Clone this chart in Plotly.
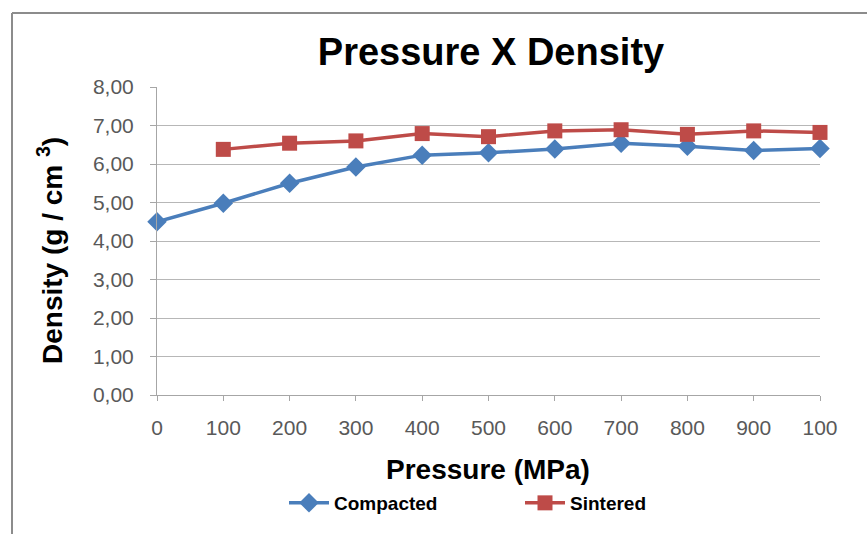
import plotly.graph_objects as go

pressure = [0, 100, 200, 300, 400, 500, 600, 700, 800, 900, 1000]
tick_labels = ["0", "100", "200", "300", "400", "500", "600", "700", "800", "900", "100"]
compacted = [4.50, 4.98, 5.50, 5.92, 6.23, 6.29, 6.39, 6.54, 6.46, 6.35, 6.40]
sintered_pressure = [100, 200, 300, 400, 500, 600, 700, 800, 900, 1000]
sintered = [6.38, 6.54, 6.60, 6.79, 6.71, 6.86, 6.89, 6.77, 6.86, 6.82]
y_ticks = [0, 1, 2, 3, 4, 5, 6, 7, 8]

W, H = 867, 534
L, R, T, B = 157, 47, 87, 139
pw, ph = W - L - R, H - T - B

def px_x(p):
    return (p - L) / pw

def px_y(p):
    return (H - B - p) / ph

fig = go.Figure()
fig.add_trace(go.Scatter(
    x=pressure, y=compacted, name="Compacted", mode="lines+markers",
    line=dict(color="#4A7EBB", width=3.5),
    marker=dict(symbol="diamond", size=15, color="#4A7EBB"),
    cliponaxis=False,
))
fig.add_trace(go.Scatter(
    x=sintered_pressure, y=sintered, name="Sintered", mode="lines+markers",
    line=dict(color="#BE4B48", width=3.5),
    marker=dict(symbol="square", size=15, color="#BE4B48"),
    cliponaxis=False,
))

axis_font = dict(family="Liberation Sans, Arial, sans-serif", size=21, color="#595959")

fig.update_layout(
    width=W, height=H,
    margin=dict(l=L, r=R, t=T, b=B),
    paper_bgcolor="white", plot_bgcolor="white",
    separators=",.",
    showlegend=True,
    title=dict(
        text="<b>Pressure X Density</b>",
        font=dict(family="Liberation Sans, Arial, sans-serif", size=38, color="black"),
        x=491 / W, xanchor="center", xref="container",
        y=1 - 52 / H, yanchor="middle", yref="container",
    ),
    xaxis=dict(
        range=[0, 1000], tickvals=pressure, ticktext=tick_labels,
        showgrid=False, zeroline=False,
        showline=True, linecolor="#A6A6A6", linewidth=1,
        ticks="outside", ticklen=5, tickcolor="#A6A6A6",
        tickfont=axis_font, ticklabelstandoff=9,
        fixedrange=True,
    ),
    yaxis=dict(
        range=[0, 8], tickvals=y_ticks, tickformat=".2f",
        showgrid=True, gridcolor="#B7B7B7", gridwidth=1,
        zeroline=False,
        showline=True, linecolor="#A6A6A6", linewidth=1,
        ticks="outside", ticklen=6, tickcolor="#A6A6A6",
        tickfont=axis_font, ticklabelstandoff=12,
        fixedrange=True,
    ),
    legend=dict(
        orientation="h", x=px_x(284), xanchor="left",
        y=px_y(503), yanchor="middle",
        font=dict(family="Liberation Sans, Arial, sans-serif", size=19,
                  color="black", weight="bold"),
        itemwidth=40, entrywidth=181, entrywidthmode="pixels",
        tracegroupgap=0,
        bgcolor="rgba(0,0,0,0)",
    ),
    annotations=[
        dict(
            text="<b>Density (g / cm <sup>3</sup>)</b>",
            xref="paper", yref="paper",
            x=px_x(50), y=px_y(251), xanchor="center", yanchor="middle",
            textangle=-90, showarrow=False,
            font=dict(family="Liberation Sans, Arial, sans-serif", size=28, color="black"),
        ),
        dict(
            text="<b>Pressure (MPa)</b>",
            xref="paper", yref="paper",
            x=px_x(488), y=px_y(469), xanchor="center", yanchor="middle",
            showarrow=False,
            font=dict(family="Liberation Sans, Arial, sans-serif", size=28, color="black"),
        ),
    ],
    shapes=[
        dict(type="line", xref="paper", yref="paper",
             x0=px_x(12), x1=px_x(12), y0=px_y(13), y1=px_y(560),
             line=dict(color="#8C8C8C", width=2)),
        dict(type="line", xref="paper", yref="paper",
             x0=px_x(12), x1=px_x(900), y0=px_y(13), y1=px_y(13),
             line=dict(color="#8C8C8C", width=2)),
    ],
)

fig.write_html("out.html")
